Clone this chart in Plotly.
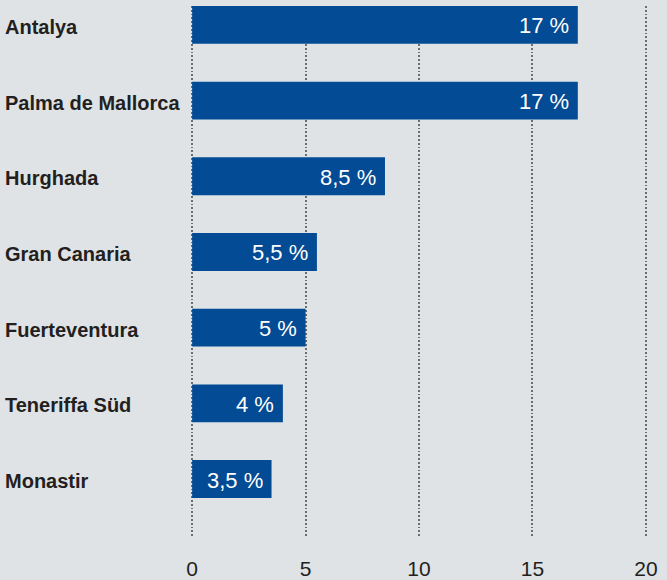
import plotly.graph_objects as go

categories = ["Antalya", "Palma de Mallorca", "Hurghada", "Gran Canaria",
              "Fuerteventura", "Teneriffa Süd", "Monastir"]
values = [17, 17, 8.5, 5.5, 5, 4, 3.5]
x_ticks = [0, 5, 10, 15, 20]
x_tick_labels = ["0", "5", "10", "15", "20"]

BG = "#dfe3e6"
BAR = "#034b94"
TXT = "#231f20"

L, W = 191, 456

def fmt(v):
    s = ("%g" % v).replace(".", ",")
    return s + " %"

fig = go.Figure()
fig.add_trace(go.Bar(
    x=values, y=categories, orientation="h",
    marker=dict(color=BAR, line=dict(width=0)),
    width=0.5, hoverinfo="skip",
))

for c, v in zip(categories, values):
    fig.add_annotation(x=v, y=c, xref="x", yref="y", text=fmt(v),
                       xanchor="right", yanchor="middle", xshift=-7, yshift=-1,
                       showarrow=False,
                       font=dict(family="Liberation Sans, Arial, sans-serif",
                                 size=22, color="white"))
    fig.add_annotation(x=(3 - L) / W, y=c, xref="paper", yref="y", text=c,
                       xanchor="left", yanchor="middle", yshift=-2, showarrow=False,
                       font=dict(family="Liberation Sans, Arial, sans-serif",
                                 size=20, color=TXT, weight="bold"))

fig.update_layout(
    width=667, height=580,
    margin=dict(l=L, r=667 - L - W, t=6, b=43, pad=0, autoexpand=False),
    paper_bgcolor=BG, plot_bgcolor=BG,
    showlegend=False,
    xaxis=dict(range=[-0.05, 20.05], tickvals=x_ticks, ticktext=x_tick_labels,
               showgrid=True, gridcolor="#6b6d70", gridwidth=2,
               griddash="1.8px,2px", zeroline=False, showline=False,
               ticks="", ticklabelstandoff=17, automargin=False,
               tickfont=dict(family="Liberation Sans, Arial, sans-serif",
                             size=21, color=TXT)),
    yaxis=dict(range=[6.766, -0.25], showticklabels=False, showgrid=False,
               zeroline=False, showline=False, ticks="", automargin=False),
)

fig.write_html(
    "out.html",
    config={"displayModeBar": False},
    post_script="document.body.style.margin='0';document.body.style.background='%s';" % BG,
)
